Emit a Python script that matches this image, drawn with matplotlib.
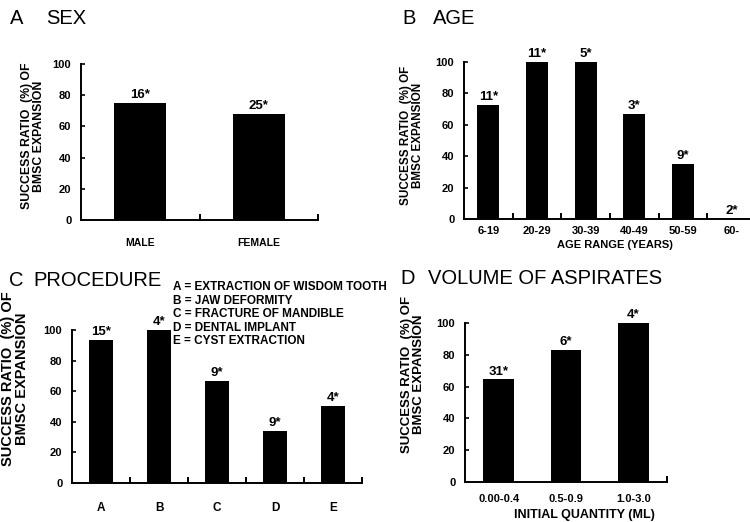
import matplotlib
matplotlib.use('Agg')
import matplotlib.pyplot as plt
import numpy as np

# ---------------- data ----------------
sex_cats = ['MALE', 'FEMALE']
sex_vals = [75.0, 68.0]
sex_n = ['16*', '25*']

age_cats = ['6-19', '20-29', '30-39', '40-49', '50-59', '60-']
age_vals = [72.7, 100.0, 100.0, 66.7, 35.0, 0.0]
age_n = ['11*', '11*', '5*', '3*', '9*', '2*']

proc_cats = ['A', 'B', 'C', 'D', 'E']
proc_vals = [93.3, 100.0, 66.7, 34.0, 50.5]
proc_n = ['15*', '4*', '9*', '9*', '4*']
proc_legend = ['A = EXTRACTION OF WISDOM TOOTH',
               'B = JAW DEFORMITY',
               'C = FRACTURE OF MANDIBLE',
               'D = DENTAL IMPLANT',
               'E = CYST EXTRACTION']

vol_cats = ['0.00-0.4', '0.5-0.9', '1.0-3.0']
vol_vals = [64.5, 83.3, 100.0]
vol_n = ['31*', '6*', '4*']

y_ticks = [0, 20, 40, 60, 80, 100]
ylabel_text = 'SUCCESS RATIO  (%) OF\nBMSC EXPANSION'

# ---------------- figure ----------------
W, H = 750, 522
FONT = 'Liberation Sans'
plt.rcParams['font.family'] = [FONT, 'DejaVu Sans']
fig = plt.figure(figsize=(W / 100, H / 100), dpi=100)


def px_axes(left, right, top, bottom):
    return fig.add_axes([left / W, 1 - bottom / H, (right - left) / W, (bottom - top) / H])


def panel(ax, cats, vals, ns, bar_w=0.44, xpad=10, tick_fs=8, inner=True, yl_x=None, yl_y=None, yl_fs=8.8):
    x = np.arange(len(cats))
    ax.bar(x, vals, width=bar_w, color='black', clip_on=False)
    ax.set_xlim(-0.5, len(cats) - 0.5)
    ax.set_ylim(0, 100)
    for xi, v, n in zip(x, vals, ns):
        ax.annotate(n, (xi, v), xytext=(0, 3.5), textcoords='offset points',
                    ha='center', va='baseline', fontsize=9.5, fontweight='bold',
                    annotation_clip=False)
    for s in ['top', 'right']:
        ax.spines[s].set_visible(False)
    for s in ['left', 'bottom']:
        ax.spines[s].set_linewidth(1.4)
    ax.set_xticks(x)
    ax.set_xticklabels(cats, fontsize=tick_fs, fontweight='bold')
    ax.tick_params(axis='x', which='major', length=0, pad=xpad)
    if inner:
        bounds = np.arange(len(cats)) + 0.5
    else:
        bounds = [len(cats) - 0.5]
    ax.set_xticks(bounds, minor=True)
    ax.tick_params(axis='x', which='minor', direction='in', length=4, width=1.4)
    ax.set_yticks(y_ticks)
    ax.set_yticklabels([str(t) for t in y_ticks], fontsize=8, fontweight='bold')
    ax.tick_params(axis='y', direction='in', length=3, width=1.2, pad=7)
    fig.text(yl_x / W, 1 - yl_y / H, ylabel_text, rotation=90, ha='center', va='center',
             fontsize=yl_fs, fontweight='bold', linespacing=1.0)


# A: SEX
axA = px_axes(81, 318, 64, 220)
panel(axA, sex_cats, sex_vals, sex_n, bar_w=0.44, xpad=13, tick_fs=7.5,
      yl_x=33, yl_y=136, yl_fs=8.8)

# B: AGE
axB = px_axes(464, 756, 62, 219)
panel(axB, age_cats, age_vals, age_n, bar_w=0.45, xpad=5, tick_fs=8,
      yl_x=412, yl_y=135, yl_fs=8.4)
axB.set_xlabel('AGE RANGE (YEARS)', fontsize=8, fontweight='bold')
axB.xaxis.set_label_coords((615 - 464) / (756 - 464), -(245 - 219) / (219 - 62), transform=axB.transAxes)
axB.xaxis.label.set_va('center')

# C: PROCEDURE
axC = px_axes(72, 362, 330, 483)
panel(axC, proc_cats, proc_vals, proc_n, bar_w=0.43, xpad=14, tick_fs=8.5,
      yl_x=15, yl_y=379, yl_fs=10.5)

# D: VOLUME
axD = px_axes(465, 667, 323, 482)
panel(axD, vol_cats, vol_vals, vol_n, bar_w=0.46, xpad=9, tick_fs=8, inner=False,
      yl_x=413, yl_y=374, yl_fs=9.5)
axD.set_xlabel('INITIAL QUANTITY (ML)', fontsize=9, fontweight='bold')
axD.xaxis.set_label_coords((584 - 465) / (667 - 465), -(515 - 482) / (482 - 323), transform=axD.transAxes)
axD.xaxis.label.set_va('center')


# titles
def title(letter, word, xl, xw, y):
    fig.text(xl / W, 1 - y / H, letter, ha='left', va='center', fontsize=14.5)
    fig.text(xw / W, 1 - y / H, word, ha='left', va='center', fontsize=14.5)


title('A', 'SEX', 10, 46, 19)
title('B', 'AGE', 402, 433, 19)
title('C', 'PROCEDURE', 9, 33, 280)
title('D', 'VOLUME OF ASPIRATES', 400, 428, 279)

fig.text(173 / W, 1 - 281 / H, '\n'.join(proc_legend), ha='left', va='top',
         fontsize=8.5, fontweight='bold', linespacing=1.18)

fig.savefig('out.png', dpi=100)
